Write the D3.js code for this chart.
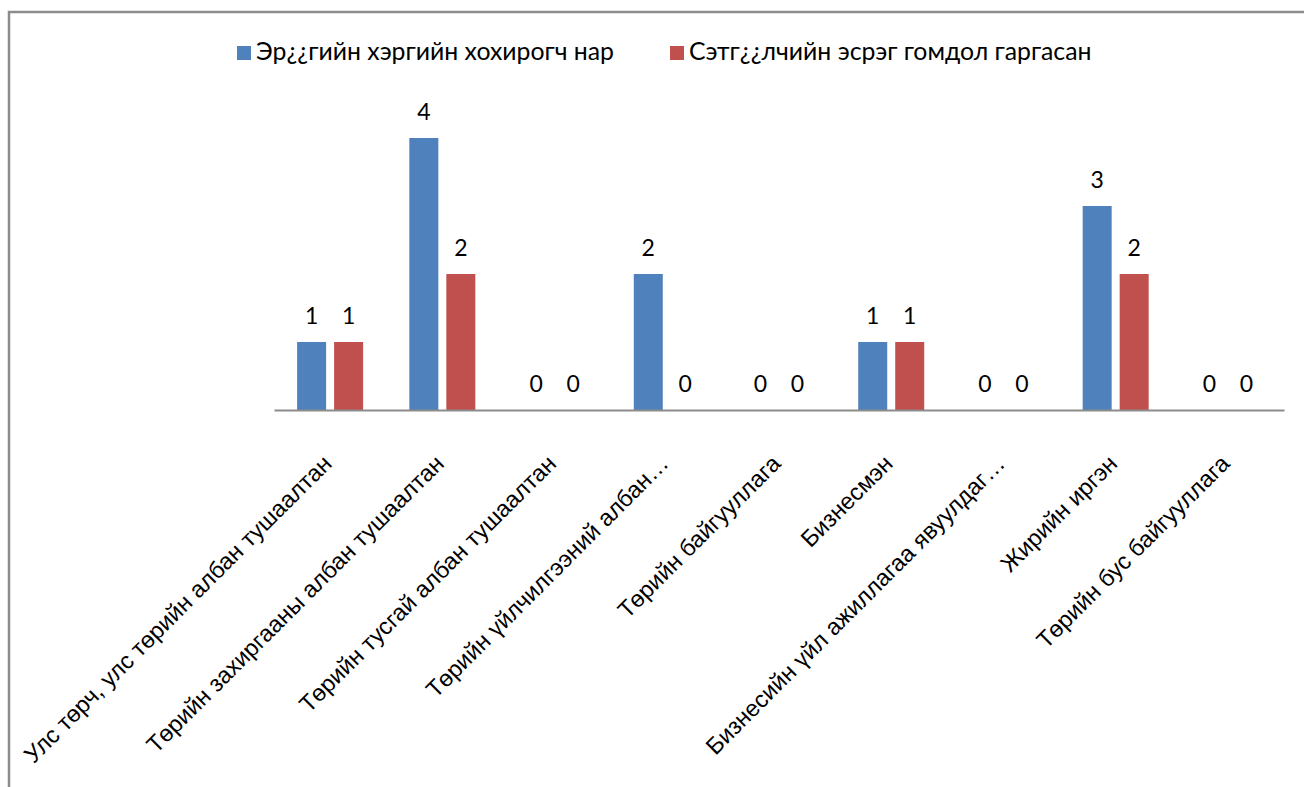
<!DOCTYPE html>
<html>
<head>
    <meta charset="utf-8" />
    <script src="https://d3js.org/d3.v7.min.js"></script>
    <style>
        body { margin: 0; background: #fff; }
        svg { display: block; }
    </style>
</head>
<body>
    <script>
        var categories = [
            "Улс төрч, улс төрийн албан тушаалтан",
            "Төрийн захиргааны албан тушаалтан",
            "Төрийн тусгай албан тушаалтан",
            "Төрийн үйлчилгээний албан…",
            "Төрийн байгууллага",
            "Бизнесмэн",
            "Бизнесийн үйл ажиллагаа явуулдаг…",
            "Жирийн иргэн",
            "Төрийн бус байгууллага"
        ];
        var seriesNames = ["Эр¿¿гийн хэргийн хохирогч нар", "Сэтг¿¿лчийн эсрэг гомдол гаргасан"];
        var criminal = [1, 4, 0, 2, 0, 1, 0, 3, 0];
        var complaint = [1, 2, 0, 0, 0, 1, 0, 2, 0];
        var colors = ["#4f81bd", "#c0504d"];

        var width = 1304, height = 787;
        var svg = d3.select("body").append("svg")
            .attr("width", width)
            .attr("height", height);

        // chart frame (runs off the canvas at right and bottom)
        svg.append("rect")
            .attr("x", 9).attr("y", 12)
            .attr("width", 1400).attr("height", 900)
            .attr("fill", "none")
            .attr("stroke", "#8c8c8c")
            .attr("stroke-width", 2.5);

        var x = d3.scaleBand().domain(categories).range([274, 1284]);
        var y = d3.scaleLinear().domain([0, 5]).range([410, 70]);
        var barW = 29, gap = 8;

        var data = categories.map(function (c, i) {
            return { cat: c, vals: [criminal[i], complaint[i]] };
        });

        var groups = svg.selectAll("g.cat").data(data).enter().append("g").attr("class", "cat");

        [0, 1].forEach(function (s) {
            var off = s === 0 ? -(gap / 2 + barW) : gap / 2;
            groups.append("rect")
                .attr("x", function (d) { return x(d.cat) + x.bandwidth() / 2 + off; })
                .attr("y", function (d) { return y(d.vals[s]); })
                .attr("width", barW)
                .attr("height", function (d) { return y(0) - y(d.vals[s]); })
                .attr("fill", colors[s]);
            groups.append("text")
                .attr("x", function (d) { return x(d.cat) + x.bandwidth() / 2 + off + barW / 2; })
                .attr("y", function (d) { return y(d.vals[s]) - 18; })
                .attr("text-anchor", "middle")
                .attr("font-family", "Lato, 'Open Sans', sans-serif")
                .attr("font-size", 23)
                .attr("fill", "#000")
                .text(function (d) { return d.vals[s]; });
        });

        // x axis
        var xAxis = svg.append("g")
            .attr("transform", "translate(0," + y(0) + ")")
            .call(d3.axisBottom(x).tickSize(0).tickPadding(0));
        xAxis.select(".domain").attr("stroke", "#8c8c8c").attr("stroke-width", 2);
        xAxis.selectAll(".tick text")
            .attr("font-family", "'Liberation Sans', Arial, sans-serif")
            .attr("font-size", 23.5)
            .attr("fill", "#000")
            .attr("text-anchor", "end")
            .attr("dy", 0)
            .attr("transform", "translate(3,55) rotate(-45)");

        // legend
        var legendX = [237, 670];
        seriesNames.forEach(function (name, i) {
            var lg = svg.append("g").attr("transform", "translate(" + legendX[i] + ",46)");
            lg.append("rect").attr("width", 14).attr("height", 14).attr("fill", colors[i]);
            lg.append("text")
                .attr("x", 19).attr("y", 14)
                .attr("font-family", "Lato, 'Open Sans', sans-serif")
                .attr("font-size", 24.8)
                .attr("fill", "#000")
                .text(name);
        });
    </script>
</body>
</html>
